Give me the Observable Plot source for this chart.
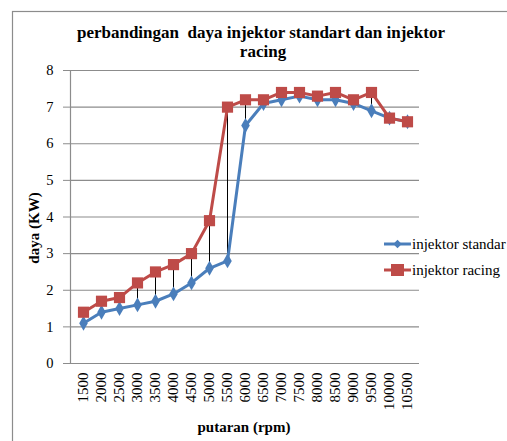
<!DOCTYPE html>
<html>
<head>
<meta charset="utf-8">
<script src="https://cdn.jsdelivr.net/npm/d3@7"></script>
<script src="https://cdn.jsdelivr.net/npm/@observablehq/plot@0.6"></script>
<style>
  html, body { margin: 0; padding: 0; background: #fff; }
  svg, svg text { font-family: "Liberation Serif", "Times New Roman", serif !important; }
</style>
</head>
<body>
<div id="chart"></div>
<script>
const rpm = ["1500","2000","2500","3000","3500","4000","4500","5000","5500","6000","6500","7000","7500","8000","8500","9000","9500","10000","10500"];
const standar = [1.1,1.4,1.5,1.6,1.7,1.9,2.2,2.6,2.8,6.5,7.1,7.2,7.3,7.2,7.2,7.1,6.9,6.7,6.6];
const racing  = [1.4,1.7,1.8,2.2,2.5,2.7,3.0,3.9,7.0,7.2,7.2,7.4,7.4,7.3,7.4,7.2,7.4,6.7,6.6];
const seriesNames = ["injektor standar","injektor racing"];
const titleLines = ["perbandingan  daya injektor standart dan injektor","racing"];
const yLabel = "daya (KW)";
const xLabel = "putaran (rpm)";

const blue = "#4a7ebb", red = "#be4b48", grid = "#8c8c8c";
const font = "'Liberation Serif', 'Times New Roman', serif";

const rows = rpm.map((r, i) => ({rpm: r, s: standar[i], c: racing[i]}));
const sData = rows.map(d => ({rpm: d.rpm, v: d.s}));
const cData = rows.map(d => ({rpm: d.rpm, v: d.c}));

const W = 507, H = 441;
const chart = Plot.plot({
  width: W, height: H,
  marginLeft: 70, marginRight: 88, marginTop: 70, marginBottom: 78,
  style: {fontFamily: font, fontSize: "14px", color: "black", background: "white", overflow: "hidden"},
  x: {type: "band", domain: rpm, padding: 0},
  y: {domain: [0, 8], ticks: 8},
  marks: [
    Plot.gridY({ticks: 8, stroke: grid, strokeOpacity: 1, strokeWidth: 1.2}),
    Plot.frame({anchor: "left", stroke: grid, strokeWidth: 1.2}),
    Plot.axisY({ticks: 8, tickSize: 7, tickPadding: 10, stroke: grid, label: null, fontSize: 14.5}),
    Plot.axisX({tickSize: 0, tickPadding: 9, tickRotate: -90, label: null, fontSize: 15}),
    Plot.ruleX(rows, {x: "rpm", y1: "s", y2: "c", stroke: "black", strokeWidth: 1}),
    Plot.line(sData, {x: "rpm", y: "v", stroke: blue, strokeWidth: 3}),
    Plot.dot(sData, {x: "rpm", y: "v", symbol: "diamond", fill: blue, r: 4.5}),
    Plot.line(cData, {x: "rpm", y: "v", stroke: red, strokeWidth: 3}),
    Plot.dot(cData, {x: "rpm", y: "v", symbol: "square", fill: red, r: 6.3})
  ]
});

const svg = d3.select(chart);
// outer chart-area border
svg.insert("rect", ":first-child")
  .attr("x", 12.5).attr("y", 11.5).attr("width", 520).attr("height", 460)
  .attr("fill", "white").attr("stroke", "#8c8c8c").attr("stroke-width", 1.2);

// title
const t = svg.append("text").attr("text-anchor", "middle")
  .attr("font-weight", "bold").attr("font-size", 17).attr("fill", "black")
  .style("white-space", "pre").attr("xml:space", "preserve");
t.append("tspan").attr("x", 261).attr("y", 38).text(titleLines[0]);
t.append("tspan").attr("x", 263).attr("y", 57).text(titleLines[1]);

// axis labels
svg.append("text").attr("transform", "translate(39,228) rotate(-90)")
  .attr("text-anchor", "middle").attr("font-weight", "bold").attr("font-size", 15)
  .text(yLabel);
svg.append("text").attr("x", 244).attr("y", 432)
  .attr("text-anchor", "middle").attr("font-weight", "bold").attr("font-size", 15)
  .text(xLabel);

// legend
const leg = [{name: seriesNames[0], color: blue, sym: "diamond", y: 244},
             {name: seriesNames[1], color: red, sym: "square", y: 270}];
leg.forEach(l => {
  svg.append("line").attr("x1", 384).attr("x2", 411).attr("y1", l.y).attr("y2", l.y)
    .attr("stroke", l.color).attr("stroke-width", 3);
  if (l.sym === "diamond") {
    svg.append("path").attr("d", d3.symbol(d3.symbolDiamond2, 45)())
      .attr("transform", `translate(397.5,${l.y})`).attr("fill", l.color);
  } else {
    svg.append("rect").attr("x", 391).attr("y", l.y - 6).attr("width", 13).attr("height", 12)
      .attr("fill", l.color);
  }
  svg.append("text").attr("x", 412).attr("y", l.y + 5).attr("font-size", 15)
    .attr("text-anchor", "start").attr("fill", "black").text(l.name);
});

document.getElementById("chart").appendChild(chart);
</script>
</body>
</html>
